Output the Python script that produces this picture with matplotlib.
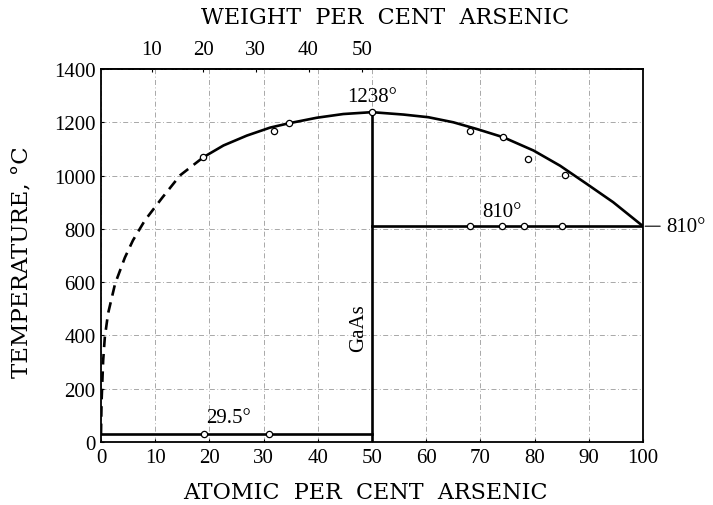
import numpy as np
import matplotlib
matplotlib.use("Agg")
import matplotlib.pyplot as plt

plt.rcParams['font.family'] = ['Liberation Serif', 'DejaVu Serif']

# Liquidus, Ga-rich side (dashed part, estimated)
liq_dash_x = [0.0, 0.1, 0.4, 0.7, 1.3, 2.6, 4.4, 5.9, 8.1, 11.3, 14.6, 18.9]
liq_dash_t = [29.5, 150, 306, 392, 482, 594, 692, 757, 832, 917, 1001, 1069]
# Liquidus, Ga-rich side (solid part)
liq_left_x = [18.9, 22.6, 26.9, 31.2, 34.6, 39.8, 44.7, 50.0]
liq_left_t = [1069, 1113, 1150, 1180, 1196, 1217, 1231, 1238]
# Liquidus, As-rich side
liq_right_x = [50.0, 55.8, 60.4, 65.0, 69.3, 74.2, 79.8, 84.7, 89.6, 94.5, 100.0]
liq_right_t = [1238, 1229, 1219, 1200, 1175, 1144, 1094, 1037, 969, 900, 810]
# Experimental points
pts_x = [18.9, 32.0, 34.6, 50.0, 68.1, 74.2, 78.8, 85.6,
         68.0, 74.0, 78.0, 85.0, 19.0, 31.0]
pts_t = [1069, 1169, 1196, 1238, 1169, 1144, 1061, 1004,
         810, 810, 810, 810, 29.5, 29.5]
# Invariant temperatures
t_melt = 1238
t_eut_as = 810
t_eut_ga = 29.5
compound_x = 50

x_ticks = [0, 10, 20, 30, 40, 50, 60, 70, 80, 90, 100]
y_ticks = [0, 200, 400, 600, 800, 1000, 1200, 1400]
wt_ticks = [10, 20, 30, 40, 50]

M_GA, M_AS = 69.72, 74.92


def at2wt(a):
    a = np.asarray(a, dtype=float)
    return 100 * a * M_AS / (a * M_AS + (100 - a) * M_GA)


def wt2at(w):
    w = np.asarray(w, dtype=float)
    return 100 * (w / M_AS) / (w / M_AS + (100 - w) / M_GA)


fig = plt.figure(figsize=(7.13, 5.06), dpi=100)
ax = fig.add_axes([101 / 713, 63 / 506, 542 / 713, 373 / 506])

ax.set_xlim(0, 100)
ax.set_ylim(0, 1400)
ax.set_xticks(x_ticks)
ax.set_yticks(y_ticks)
ax.tick_params(axis='both', direction='in', length=2, labelsize=15, pad=4)
ax.grid(True, color='#9a9a9a', linestyle=(0, (6, 3, 1, 3)), linewidth=0.6)
for s in ax.spines.values():
    s.set_linewidth(1.3)

lw = 1.9
ax.plot(liq_dash_x, liq_dash_t, color='black', lw=lw, linestyle=(0, (4, 2.6)))
ax.plot(liq_left_x, liq_left_t, color='black', lw=lw)
ax.plot(liq_right_x, liq_right_t, color='black', lw=lw)
ax.plot([compound_x, compound_x], [0, t_melt], color='black', lw=lw)
ax.plot([compound_x, 100], [t_eut_as, t_eut_as], color='black', lw=lw)
ax.plot([0, compound_x], [t_eut_ga, t_eut_ga], color='black', lw=lw)
ax.plot(pts_x, pts_t, linestyle='none', marker='o', ms=4.5, mfc='white',
        mec='black', mew=0.9, zorder=5)

ax.text(compound_x, t_melt + 25, '1238°', ha='center', va='bottom', fontsize=15)
ax.text(74, t_eut_as + 20, '810°', ha='center', va='bottom', fontsize=15)
ax.text(23.5, 55, '29.5°', ha='center', va='bottom', fontsize=15)
ax.text(47.6, 430, 'GaAs', rotation=90, ha='center', va='center', fontsize=15)
ax.annotate('810°', xy=(100.4, t_eut_as), xytext=(104.2, t_eut_as),
            ha='left', va='center', fontsize=15, annotation_clip=False,
            arrowprops=dict(arrowstyle='-', lw=0.8, color='black',
                            shrinkA=2, shrinkB=0))

ax.set_xlabel('ATOMIC  PER  CENT  ARSENIC', fontsize=16, family=['DejaVu Serif'])
ax.xaxis.set_label_coords(0.487, -0.105)
ax.set_ylabel('TEMPERATURE, °C', fontsize=16.5, family=['DejaVu Serif'])
ax.yaxis.set_label_coords(-0.125, 0.485)

sec = ax.secondary_xaxis('top', functions=(at2wt, wt2at))
sec.set_xticks(wt_ticks)
sec.tick_params(direction='in', length=2, labelsize=15, pad=7)
sec.spines['top'].set_linewidth(1.3)

fig.text(385 / 713, 1 - 18 / 506, 'WEIGHT  PER  CENT  ARSENIC', ha='center',
         va='center', fontsize=16, family=['DejaVu Serif'])

fig.savefig('out.png', dpi=100)
